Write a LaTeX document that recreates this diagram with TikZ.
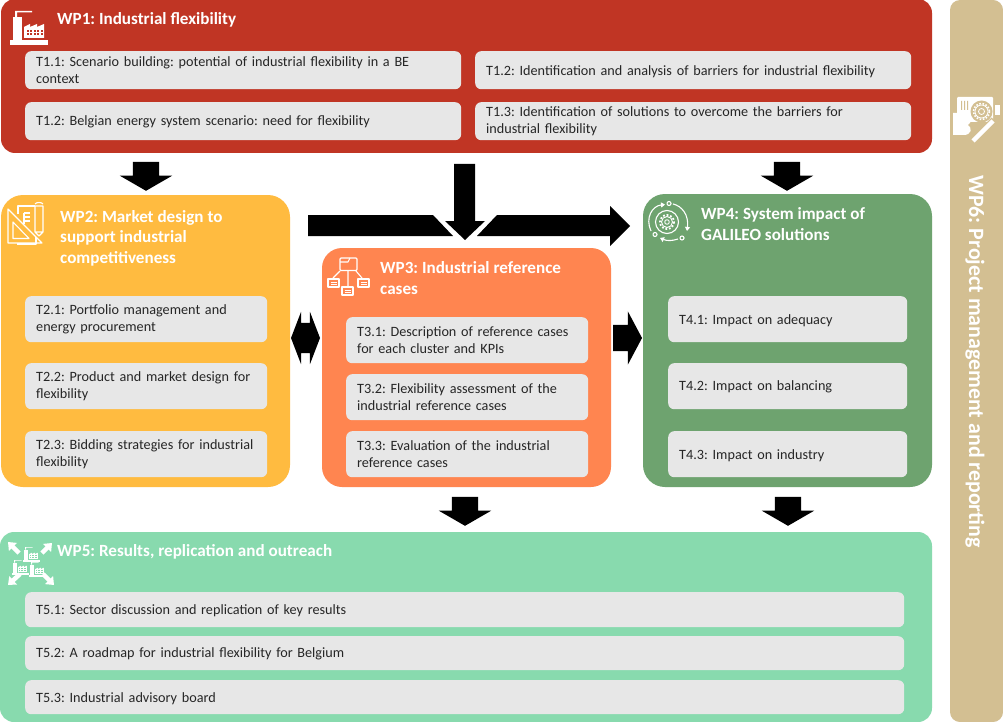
\documentclass[tikz,border=0pt]{standalone}
\usepackage{fontspec}
\setmainfont{Carlito}
\usetikzlibrary{shapes.arrows,arrows.meta}
\definecolor{cWPa}{HTML}{C03524}
\definecolor{cWPb}{HTML}{FFBB40}
\definecolor{cWPc}{HTML}{FF8550}
\definecolor{cWPd}{HTML}{6EA36F}
\definecolor{cWPe}{HTML}{88DAAE}
\definecolor{cWPf}{HTML}{D3BF92}
\definecolor{cTask}{HTML}{E7E7E7}
\definecolor{cText}{HTML}{262626}
\tikzset{
  taskbox/.style={draw=none,fill=cTask,rounded corners=6pt,anchor=north west,inner xsep=11pt,inner ysep=0pt,align=left,text=cText,font=\fontsize{14.2}{17}\selectfont\frenchspacing},
  wptitle/.style={anchor=west,inner sep=0pt,align=left,text=white,font=\fontsize{17.1}{20.6}\selectfont\bfseries\frenchspacing},
  blockdown/.style={fill=black,single arrow,inner xsep=0pt,inner ysep=13pt,rotate=-90,minimum height=29pt,single arrow head extend=13pt,single arrow tip angle=120},
  icon/.style={draw=white,line width=1.1pt,fill=none,line join=round},
  iconarrow/.style={icon,-{Triangle[length=4pt,width=5pt]}},
}
\newcommand{\wpbg}[7]{\fill[#6,rounded corners=#7pt] (#2,#3) rectangle (#4,#5); \coordinate (#1) at (#2,#3);}
\newcommand{\task}[6]{%
  \pgfmathsetlengthmacro{\tw}{(#4-#2)*1pt-22pt}%
  \pgfmathsetlengthmacro{\th}{(#5-#3)*1pt}%
  \node[taskbox,text width=\tw,minimum height=\th] (#1) at (#2,#3) {#6};}
\newcommand{\taskone}[6]{%
  \pgfmathsetlengthmacro{\tw}{(#4-#2)*1pt-22pt}%
  \pgfmathsetlengthmacro{\th}{(#5-#3)*1pt}%
  \node[taskbox,text width=\tw,minimum height=\th] (#1) at (#2,#3) {\rule{0pt}{12pt}#6};}
\newcommand{\factory}[4]{%
 \begin{scope}[shift={(#1,#2)},scale=#3]
  \fill[white] (0,29) rectangle (38,34);
  \fill[white] (3,6) rectangle (12,29);
  \fill[white] (5,6) -- (5,0) -- (22,0) -- (22,1.5) -- (7,1.5) -- (7,6) -- cycle;
  \fill[white] (14,27) -- (14,16) -- (20,13) -- (20,16) -- (27,13) -- (27,16) -- (34,13) -- (34,27) -- cycle;
  \foreach \xx in {16.5,20,23.5,27,30.5}{\foreach \yy in {19,22.5}{\fill[#4] (\xx,\yy) rectangle +(2,2);}}
 \end{scope}}
\begin{document}
\begin{tikzpicture}[x=1pt,y=-1pt]
\useasboundingbox (0,0) rectangle (1003,722);
\fill[white] (0,0) rectangle (1003,722);
% backgrounds
\wpbg{wpa}{1}{-1}{932}{153}{cWPa}{14}
\wpbg{wpb}{1}{195}{290}{487}{cWPb}{22}
\wpbg{wpc}{322}{248}{611}{487}{cWPc}{20}
\wpbg{wpd}{643}{194}{932}{487}{cWPd}{22}
\wpbg{wpe}{0}{532}{932}{722}{cWPe}{14}
\wpbg{wpf}{950}{0}{1003}{722}{cWPf}{10}
% titles
\node[wptitle] (ta) at (57,19.5) {WP1: Industrial flexibility};
\node[wptitle] (tb) at (60,238) {WP2: Market design to\\support industrial\\competitiveness};
\node[wptitle] (tc) at (380,278) {WP3: Industrial reference\\cases};
\node[wptitle] (td) at (701,224) {WP4: System impact of\\GALILEO solutions};
\node[wptitle] (te) at (57,551.5) {WP5: Results, replication and outreach};
\node[rotate=-90,inner sep=0pt,text=white,font=\fontsize{21.9}{24}\selectfont\bfseries\frenchspacing] (tf) at (975,361.5) {WP6: Project management and reporting};
% tasks
\task{t11}{25}{51}{461}{89}{T1.1: Scenario building: potential of industrial flexibility in a BE\\context}
\taskone{t12a}{25}{102}{461}{140}{T1.2: Belgian energy system scenario: need for flexibility}
\taskone{t12b}{475}{51}{911}{89}{T1.2: Identification and analysis of barriers for industrial flexibility}
\task{t13}{475}{102}{911}{140}{T1.3: Identification of solutions to overcome the barriers for\\industrial flexibility}
\task{t21}{25}{296}{267}{342}{T2.1: Portfolio management and\\energy procurement}
\task{t22}{25}{363}{267}{409}{T2.2: Product and market design for\\flexibility}
\task{t23}{25}{431}{267}{477}{T2.3: Bidding strategies for industrial\\flexibility}
\task{t31}{346}{317}{588}{363}{T3.1: Description of reference cases\\for each cluster and KPIs}
\task{t32}{346}{374}{588}{420}{T3.2: Flexibility assessment of the\\industrial reference cases}
\task{t33}{346}{431}{588}{477}{T3.3: Evaluation of the industrial\\reference cases}
\taskone{t41}{668}{296}{907}{342}{T4.1: Impact on adequacy}
\taskone{t42}{668}{363}{907}{409}{T4.2: Impact on balancing}
\taskone{t43}{668}{431}{907}{477}{T4.3: Impact on industry}
\taskone{t51}{25}{592}{904}{627}{T5.1: Sector discussion and replication of key results}
\taskone{t52}{25}{636}{904}{670}{T5.2: A roadmap for industrial flexibility for Belgium}
\taskone{t53}{25}{680}{904}{714}{T5.3: Industrial advisory board}
% block arrows
\node[blockdown] (aab) at (146,172.5) {};
\node[blockdown] (aad) at (787,172.5) {};
\node[blockdown] (ace) at (465,507.5) {};
\node[blockdown] (ade) at (788,507.5) {};
\node[fill=black,double arrow,inner xsep=0pt,inner ysep=15pt,minimum height=29pt,double arrow head extend=11pt,double arrow tip angle=138] (abc) at (305.5,338) {};
\node[fill=black,single arrow,inner xsep=0pt,inner ysep=13pt,minimum height=29pt,single arrow head extend=13.5pt,single arrow tip angle=124] (acd) at (624,338) {};
\fill[black] (454,164) -- (475,164) -- (475,221) -- (485,221) -- (465,240) -- (445,221) -- (454,221) -- cycle;
\fill[black] (308,215) -- (433,215) -- (453,236) -- (308,236) -- cycle;
\fill[black] (477,236) -- (497,215) -- (610,215) -- (610,206) -- (630,226) -- (610,246) -- (610,236) -- cycle;
% WP1 icon
\factory{10}{11}{1}{cWPa}
% WP2 icon
\draw[icon] (8,209) -- (42,243) -- (8,243) -- cycle;
\draw[icon] (13,222) -- (29,238.5) -- (13,238.5) -- cycle;
\draw[icon] (18,214) -- (18,206) -- (35,206);
\draw[icon] (24,213) -- (30,213) (24,217) -- (30,217) (24,221) -- (30,221) (24,213) -- (24,224);
\draw[icon] (35,206) rectangle (43,232) (35,232) -- (39,236) -- (43,232);
\draw[icon] (35,204) .. controls (36,202) and (42,202) .. (43,204);
\draw[icon] (17,244) -- (36,244) -- (36,237);
% WP3 icon
\draw[icon,rounded corners=1pt] (340,258) rectangle (357,270.5);
\draw[icon] (340,262) -- (348,262) -- (350,258);
\draw[icon] (340,271) -- (333,278) (348,271) -- (348,286) (356,271) -- (362,278);
\foreach \xx/\yy in {328/279,342/287,358/279}{
  \draw[icon] (\xx,\yy) rectangle +(11,8);
  \draw[icon,line width=.7pt] (\xx+2.5,\yy+3) -- +(6,0) (\xx+2.5,\yy+5) -- +(6,0);}
% WP4 icon
\draw[icon] (667,222) circle[radius=11.5];
\draw[icon,line width=1.8pt,dash pattern=on 1.8pt off 1.8pt] (667,222) circle[radius=7];
\draw[icon,line width=.9pt] (667,222) circle[radius=5.5] (667,222) circle[radius=2.3];
\draw[iconarrow] (651,231) .. controls (645,218) and (652,206) .. (665,204.5);
\draw[iconarrow] (673,204) .. controls (682,206) and (689,215) .. (687,231);
\draw[iconarrow] (678,239) .. controls (672,241) and (667,241) .. (660,238);
\draw[icon] (669,203.5) circle[radius=2] (655,234.5) circle[radius=2] (682,238) circle[radius=2];
% WP5 icon
\factory{23}{547}{.44}{cWPe}
\factory{12}{560}{.44}{cWPe}
\factory{29}{562}{.44}{cWPe}
\foreach \sx/\sy/\ex/\ey in {19/553/8/542,42/553/52/543,20/574/8/585,43/574/54/585}{
  \draw[white,line width=4.5pt,-{Triangle[length=7pt,width=11pt]}] (\sx,\sy) -- (\ex,\ey);}
% WP6 icon
\fill[white,rounded corners=1pt] (957,97) rectangle (993,122);
\fill[white] (995,105) rectangle (1000,115);
\fill[cWPf] (961,101) rectangle (962,110) (964,101) rectangle (965,110) (967,101) rectangle (968,110);
\fill[cWPf] (981.5,111.5) circle[radius=11];
\draw[white,line width=1.6pt,dash pattern=on 1.6pt off 1.6pt] (981.5,111.5) circle[radius=8];
\draw[white,line width=.8pt] (981.5,111.5) circle[radius=6.5] (981.5,111.5) circle[radius=3];
\fill[white] (953,113) -- (964,113) .. controls (973,113) and (973,122) .. (968,125) .. controls (973,128) and (971,135) .. (964,135) -- (953,135) -- cycle;
\draw[cWPf,line width=7pt] (972,142) -- (994,120);
\draw[white,line width=4.5pt] (973,141) -- (993,121);
\end{tikzpicture}
\end{document}
